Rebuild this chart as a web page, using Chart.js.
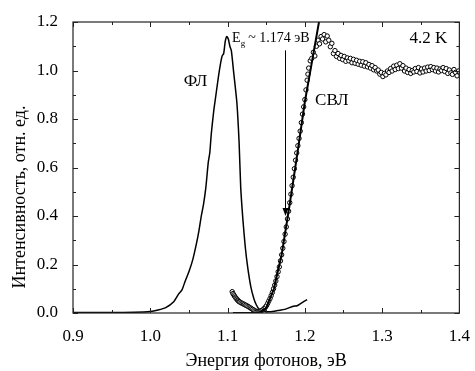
<!DOCTYPE html>
<html>
<head>
<meta charset="utf-8">
<script src="https://cdn.jsdelivr.net/npm/chart.js@4.4.1/dist/chart.umd.min.js"></script>
<style>
  html, body { margin: 0; padding: 0; background: #fff; }
  #wrap { width: 475px; height: 371px; }
</style>
</head>
<body>
<div id="wrap"><canvas id="myChart" width="475" height="371"></canvas></div>
<script>
// photoluminescence (ФЛ)
const plEnergy = [0.900, 0.950, 0.980, 1.000, 1.010, 1.020, 1.030, 1.037, 1.041, 1.045, 1.050, 1.055,
  1.060, 1.063, 1.066, 1.069, 1.072, 1.075, 1.077, 1.079, 1.082, 1.085, 1.088, 1.091, 1.093, 1.095,
  1.097, 1.099, 1.101, 1.103, 1.105, 1.108, 1.112, 1.115, 1.117, 1.120, 1.123, 1.126, 1.130, 1.134,
  1.137, 1.141, 1.147, 1.155, 1.165, 1.175, 1.185, 1.190, 1.195, 1.203];
const plIntensity = [0.002, 0.002, 0.003, 0.006, 0.012, 0.022, 0.045, 0.080, 0.095, 0.130, 0.170, 0.220,
  0.290, 0.340, 0.400, 0.450, 0.520, 0.620, 0.660, 0.740, 0.830, 0.900, 0.970, 1.030, 1.060, 1.070,
  1.120, 1.140, 1.130, 1.100, 1.080, 0.990, 0.870, 0.700, 0.520, 0.380, 0.270, 0.190, 0.110, 0.060,
  0.035, 0.015, 0.007, 0.005, 0.010, 0.016, 0.028, 0.030, 0.040, 0.055];

// СВЛ points
const svlEnergy = [
  1.106, 1.107, 1.108, 1.109, 1.110, 1.111, 1.112, 1.113, 1.114, 1.115, 1.116, 1.1175, 1.119, 1.1205,
  1.122, 1.1235, 1.125, 1.1265, 1.128, 1.1295, 1.131, 1.1325, 1.134, 1.1355, 1.137, 1.1385,
  1.140, 1.1415, 1.143, 1.1445, 1.146, 1.1475, 1.149, 1.1505, 1.152, 1.1535, 1.155, 1.1565, 1.158,
  1.1595, 1.161, 1.1625, 1.164, 1.1655, 1.167, 1.1685, 1.170, 1.1715, 1.173, 1.1745, 1.176, 1.1775,
  1.179, 1.1805, 1.182, 1.1835, 1.185, 1.1865, 1.188, 1.1895, 1.191, 1.1925, 1.194, 1.1955, 1.197,
  1.1985, 1.200, 1.2015, 1.203, 1.204, 1.205,
  1.207, 1.209, 1.211, 1.213, 1.215, 1.217, 1.219, 1.221, 1.223, 1.225, 1.227, 1.229, 1.231, 1.233,
  1.235, 1.237, 1.239, 1.241, 1.243, 1.245, 1.247, 1.249, 1.251, 1.253, 1.255, 1.257, 1.259, 1.261,
  1.263, 1.265, 1.267, 1.269, 1.271, 1.273, 1.275, 1.277, 1.279, 1.281, 1.283, 1.285, 1.287, 1.289,
  1.291, 1.293, 1.295, 1.297, 1.299, 1.301, 1.303, 1.305, 1.307, 1.309, 1.311, 1.313, 1.315, 1.317,
  1.319, 1.321, 1.323, 1.325, 1.327, 1.329, 1.331, 1.333, 1.335, 1.337, 1.339, 1.341, 1.343, 1.345,
  1.347, 1.349, 1.351, 1.353, 1.355, 1.357, 1.359, 1.361, 1.363, 1.365, 1.367, 1.369, 1.371, 1.373,
  1.375, 1.377, 1.379, 1.381, 1.383, 1.385, 1.387, 1.389, 1.391, 1.393, 1.395, 1.397, 1.399];
const svlIntensity = [
  0.088, 0.080, 0.075, 0.070, 0.065, 0.061, 0.057, 0.053, 0.050, 0.047, 0.045, 0.042, 0.040, 0.037,
  0.035, 0.032, 0.030, 0.027, 0.024, 0.021, 0.018, 0.015, 0.012, 0.009, 0.007, 0.006,
  0.005, 0.006, 0.008, 0.011, 0.014, 0.019, 0.024, 0.031, 0.040, 0.050, 0.060, 0.072, 0.085,
  0.100, 0.115, 0.132, 0.150, 0.170, 0.190, 0.215, 0.240, 0.267, 0.295, 0.325, 0.355, 0.388,
  0.420, 0.455, 0.490, 0.525, 0.560, 0.595, 0.630, 0.660, 0.690, 0.720, 0.750, 0.785, 0.820,
  0.850, 0.880, 0.920, 0.960, 0.985, 1.010,
  1.040, 1.050, 1.075, 1.060, 1.100, 1.125, 1.110, 1.140, 1.130, 1.148, 1.118, 1.142, 1.125, 1.098,
  1.112, 1.070, 1.082, 1.058, 1.070, 1.050, 1.062, 1.045, 1.058, 1.038, 1.052, 1.040, 1.050, 1.032,
  1.046, 1.030, 1.042, 1.026, 1.038, 1.022, 1.036, 1.018, 1.032, 1.015, 1.025, 1.010, 1.020, 1.003,
  1.012, 0.998, 1.002, 0.985, 0.992, 0.975, 0.988, 0.982, 0.998, 0.992, 1.008, 0.998, 1.018, 1.004,
  1.022, 1.008, 1.028, 1.010, 1.020, 0.998, 1.010, 0.992, 1.004, 0.988, 1.000, 0.994, 1.008, 0.996,
  1.012, 0.990, 1.006, 0.994, 1.010, 0.998, 1.014, 1.000, 1.016, 1.004, 1.012, 0.998, 1.010, 0.994,
  1.006, 1.000, 1.012, 0.996, 1.008, 0.988, 1.002, 0.990, 0.984, 1.004, 0.992, 0.978, 0.998];

// fit line of the edge
const fitEnergy = [1.107, 1.140, 1.150, 1.160, 1.170, 1.180, 1.190, 1.200, 1.210, 1.220];
const fitIntensity = [0.000, 0.000, 0.020, 0.100, 0.240, 0.440, 0.650, 0.870, 1.050, 1.230];

const xTicks = [0.9, 1.0, 1.1, 1.2, 1.3, 1.4];
const yTicks = [0.0, 0.2, 0.4, 0.6, 0.8, 1.0, 1.2];
const egValue = 1.174;

const serif = '"Liberation Serif", "Times New Roman", serif';

function pairs(xs, ys) {
  return xs.map((x, i) => ({ x: x, y: ys[i] }));
}

const extras = {
  id: 'extras',
  afterDatasetsDraw(chart) {
    const ctx = chart.ctx;
    const a = chart.chartArea;
    const xs = chart.scales.x, ys = chart.scales.y;
    ctx.save();
    // frame
    ctx.strokeStyle = '#222';
    ctx.lineWidth = 1.2;
    ctx.strokeRect(a.left, a.top, a.right - a.left, a.bottom - a.top);
    // inward ticks on all sides
    ctx.lineWidth = 1;
    for (let v = 0.9; v <= 1.4001; v += 0.05) {
      const px = Math.round(xs.getPixelForValue(v)) + 0.5;
      const len = Math.abs((v * 10) - Math.round(v * 10)) < 0.01 ? 5 : 3;
      ctx.beginPath();
      ctx.moveTo(px, a.bottom); ctx.lineTo(px, a.bottom - len);
      ctx.moveTo(px, a.top); ctx.lineTo(px, a.top + len);
      ctx.stroke();
    }
    for (let v = 0; v <= 1.2001; v += 0.1) {
      const py = Math.round(ys.getPixelForValue(v)) + 0.5;
      const len = Math.abs((v * 5) - Math.round(v * 5)) < 0.01 ? 5 : 3;
      ctx.beginPath();
      ctx.moveTo(a.left, py); ctx.lineTo(a.left + len, py);
      ctx.moveTo(a.right, py); ctx.lineTo(a.right - len, py);
      ctx.stroke();
    }
    // arrow at Eg
    const ax = Math.round(xs.getPixelForValue(egValue)) + 0.5;
    const y0 = ys.getPixelForValue(1.083);
    const y1 = ys.getPixelForValue(0.40);
    ctx.strokeStyle = '#000';
    ctx.fillStyle = '#000';
    ctx.beginPath();
    ctx.moveTo(ax, y0); ctx.lineTo(ax, y1 - 6);
    ctx.stroke();
    ctx.beginPath();
    ctx.moveTo(ax - 3, y1 - 8); ctx.lineTo(ax + 3, y1 - 8); ctx.lineTo(ax, y1);
    ctx.closePath(); ctx.fill();
    // labels
    ctx.textBaseline = 'alphabetic';
    ctx.textAlign = 'left';
    ctx.font = '14px ' + serif;
    const ex = xs.getPixelForValue(1.1046) + 1;
    const eb = 42;
    ctx.fillText('E', ex, eb);
    const ew = ctx.measureText('E').width;
    ctx.font = '9px ' + serif;
    ctx.fillText('g', ex + ew, eb + 4);
    ctx.font = '14px ' + serif;
    ctx.fillText(' ~ 1.174 эВ', ex + ew + 4, eb);

    ctx.textAlign = 'center';
    ctx.textBaseline = 'middle';
    ctx.font = '17px ' + serif;
    ctx.fillText('ФЛ', xs.getPixelForValue(1.0586), ys.getPixelForValue(0.955));
    ctx.fillText('СВЛ', xs.getPixelForValue(1.235), ys.getPixelForValue(0.877));
    ctx.fillText('4.2 K', xs.getPixelForValue(1.360), ys.getPixelForValue(1.133));

    // axis titles
    ctx.font = '18px ' + serif;
    ctx.fillText('Энергия фотонов, эВ', (a.left + a.right) / 2, 361);
    ctx.translate(20, 197);
    ctx.rotate(-Math.PI / 2);
    ctx.fillText('Интенсивность, отн. ед.', 0, 0);
    ctx.restore();
  }
};

const rdx = document.getElementById('myChart').getContext('2d');
const myChart = new Chart(rdx, {
  type: 'scatter',
  data: {
    datasets: [
      {
        label: 'fit',
        data: pairs(fitEnergy, fitIntensity),
        showLine: true,
        borderColor: '#000',
        borderWidth: 2,
        pointRadius: 0,
        order: 0
      },
      {
        label: 'СВЛ',
        data: pairs(svlEnergy, svlIntensity),
        showLine: false,
        pointRadius: 2.2,
        pointBorderWidth: 1,
        borderColor: '#000',
        backgroundColor: '#fff',
        order: 1
      },
      {
        label: 'ФЛ',
        data: pairs(plEnergy, plIntensity),
        showLine: true,
        borderColor: '#000',
        borderWidth: 1.5,
        pointRadius: 0,
        tension: 0.2,
        order: 2
      }
    ]
  },
  options: {
    responsive: false,
    animation: false,
    layout: { padding: { left: 0, right: 11, top: 22, bottom: 0 } },
    plugins: {
      legend: { display: false },
      tooltip: { enabled: false }
    },
    scales: {
      x: {
        type: 'linear',
        min: 0.9,
        max: 1.4,
        grid: { display: false },
        border: { display: false },
        afterBuildTicks: (s) => { s.ticks = xTicks.map(v => ({ value: v })); },
        afterFit: (s) => { s.height = 58; },
        ticks: {
          padding: 5,
          color: '#000',
          font: { family: serif, size: 17 },
          callback: (v) => v.toFixed(1)
        }
      },
      y: {
        min: 0,
        max: 1.2,
        grid: { display: false },
        border: { display: false },
        afterBuildTicks: (s) => { s.ticks = yTicks.map(v => ({ value: v })); },
        afterFit: (s) => { s.width = 73; },
        ticks: {
          padding: 7,
          color: '#000',
          font: { family: serif, size: 17 },
          callback: (v) => v.toFixed(1)
        }
      }
    }
  },
  plugins: [extras]
});
</script>
</body>
</html>
